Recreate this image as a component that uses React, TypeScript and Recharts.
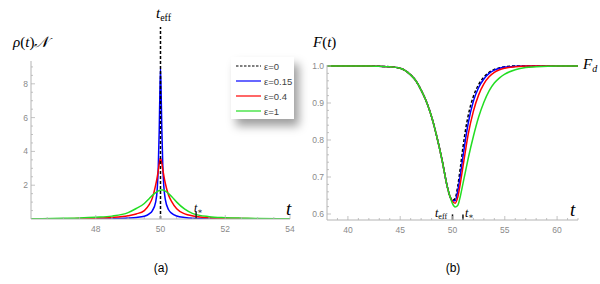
import React from 'react';
import { LineChart, Line, XAxis, YAxis, ReferenceLine, Legend } from 'recharts';

// ---------- Panel (a): rho(t) N ----------
const rhoT = [46, 47, 47.5, 48, 48.5, 49, 49.25, 49.5, 49.65, 49.75, 49.85, 49.9, 49.93, 49.96, 49.98, 50, 50.02, 50.04, 50.07, 50.1, 50.15, 50.25, 50.35, 50.5, 50.75, 51, 51.5, 52, 52.5, 53, 54];
const rhoBlue = [0.005, 0.01, 0.015, 0.02, 0.03, 0.06, 0.09, 0.16, 0.3, 0.5, 1.0, 1.8, 3.0, 5.2, 7.4, 8.9, 7.4, 5.4, 3.2, 2.0, 1.15, 0.55, 0.33, 0.18, 0.09, 0.05, 0.03, 0.02, 0.015, 0.01, 0.005];
const rhoRed = [0.01, 0.02, 0.03, 0.05, 0.09, 0.19, 0.3, 0.5, 0.85, 1.25, 2.0, 2.5, 2.85, 3.25, 3.5, 3.6, 3.5, 3.3, 2.95, 2.6, 2.1, 1.4, 1.02, 0.6, 0.3, 0.18, 0.07, 0.04, 0.03, 0.02, 0.01];
const rhoGreen = [0.015, 0.04, 0.06, 0.1, 0.17, 0.38, 0.62, 0.92, 1.2, 1.4, 1.56, 1.62, 1.66, 1.69, 1.7, 1.71, 1.72, 1.72, 1.72, 1.7, 1.65, 1.5, 1.32, 1.0, 0.58, 0.32, 0.14, 0.08, 0.05, 0.03, 0.015];
const aXTicks = [48, 50, 52, 54];
const aXMinor = [46.5, 47, 47.5, 48.5, 49, 49.5, 50.5, 51, 51.5, 52.5, 53, 53.5];
const aYTicks = [2, 4, 6, 8];
const aYMinor = [0.5, 1, 1.5, 2.5, 3, 3.5, 4.5, 5, 5.5, 6.5, 7, 7.5, 8.5, 9];
const tEffA = 50;
const tStarA = 51.1;

// ---------- Panel (b): F(t) ----------
const fT = [38, 40, 42, 43, 44, 45, 46, 46.5, 47, 47.5, 48, 48.5, 49, 49.5, 49.75, 50, 50.25, 50.5, 50.75, 51, 51.25, 51.5, 52, 52.5, 53, 53.5, 54, 54.5, 55, 56, 57, 58, 60, 62];
const fBlack = [1, 1, 1, 0.999, 0.998, 0.994, 0.976, 0.96, 0.935, 0.904, 0.863, 0.809, 0.746, 0.674, 0.648, 0.637, 0.642, 0.675, 0.725, 0.78, 0.828, 0.866, 0.918, 0.95, 0.97, 0.983, 0.991, 0.995, 0.998, 1, 1, 1, 1, 1];
const fBlue = [1, 1, 1, 0.999, 0.998, 0.994, 0.976, 0.96, 0.935, 0.904, 0.863, 0.809, 0.746, 0.674, 0.648, 0.636, 0.636, 0.662, 0.705, 0.755, 0.803, 0.845, 0.905, 0.942, 0.965, 0.98, 0.989, 0.994, 0.997, 0.999, 1, 1, 1, 1];
const fRed = [1, 1, 1, 0.999, 0.998, 0.994, 0.976, 0.96, 0.935, 0.904, 0.863, 0.809, 0.746, 0.674, 0.648, 0.634, 0.629, 0.645, 0.683, 0.728, 0.773, 0.815, 0.878, 0.922, 0.952, 0.971, 0.983, 0.99, 0.994, 0.998, 1, 1, 1, 1];
const fGreen = [1, 1, 1, 0.999, 0.998, 0.994, 0.976, 0.96, 0.935, 0.904, 0.863, 0.809, 0.746, 0.674, 0.648, 0.628, 0.619, 0.623, 0.648, 0.682, 0.716, 0.75, 0.81, 0.862, 0.902, 0.933, 0.954, 0.968, 0.978, 0.99, 0.996, 0.998, 1, 1];
const bXTicks = [40, 45, 50, 55, 60];
const bXMinor = [39, 41, 42, 43, 44, 46, 47, 48, 49, 51, 52, 53, 54, 56, 57, 58, 59, 61, 62];
const bYTicks = [0.6, 0.7, 0.8, 0.9, 1.0];
const bYMinor = [0.62, 0.64, 0.66, 0.68, 0.72, 0.74, 0.76, 0.78, 0.82, 0.84, 0.86, 0.88, 0.92, 0.94, 0.96, 0.98];
const tEffB = 50;
const tStarB = 51;

const legendLabels = ['ε=0', 'ε=0.15', 'ε=0.4', 'ε=1'];
const COLORS = { black: '#000000', blue: '#0000ff', red: '#ff0000', green: '#22dd22' };
const legendColors = [COLORS.black, COLORS.blue, COLORS.red, COLORS.green];

const rhoData = rhoT.map((t, i) => ({ t, blue: rhoBlue[i], red: rhoRed[i], green: rhoGreen[i] }));
const fData = fT.map((t, i) => ({ t, black: fBlack[i], blue: fBlue[i], red: fRed[i], green: fGreen[i] }));

const SERIF = '"Liberation Serif", "DejaVu Serif", serif';
const SANS = '"Liberation Sans", Arial, sans-serif';
const AXIS_COLOR = '#b4b4b4';
const TICK_TEXT = '#8a8a8a';

function makeTick(major: number[], axis: 'x' | 'y', fmt: (v: number) => string) {
  return (props: any) => {
    const { x, y, payload } = props;
    const v = payload.value;
    const isMajor = major.some((m) => Math.abs(m - v) < 1e-9);
    const len = isMajor ? 4 : 2;
    if (axis === 'x') {
      return (
        <g>
          <line x1={x} x2={x} y1={y} y2={y - len} stroke={AXIS_COLOR} strokeWidth={0.8} />
          {isMajor && (
            <text x={x} y={y + 13} textAnchor="middle" fontSize={8.5} fill={TICK_TEXT} fontFamily={SANS}>
              {fmt(v)}
            </text>
          )}
        </g>
      );
    }
    return (
      <g>
        <line x1={x} x2={x + len} y1={y} y2={y} stroke={AXIS_COLOR} strokeWidth={0.8} />
        {isMajor && (
          <text x={x - 3} y={y + 3} textAnchor="end" fontSize={8.5} fill={TICK_TEXT} fontFamily={SANS}>
            {fmt(v)}
          </text>
        )}
      </g>
    );
  };
}

const LegendBox = () => (
  <div
    style={{
      width: 63,
      height: 62,
      background: '#fff',
      boxShadow: '5px 7px 9px rgba(0,0,0,0.38)',
      boxSizing: 'border-box',
      paddingTop: 1.5,
    }}
  >
    {legendLabels.map((l, i) => (
      <div key={l} style={{ display: 'flex', alignItems: 'center', height: 15 }}>
        <svg width={29} height={6} style={{ marginLeft: 4 }}>
          <line
            x1={1}
            x2={26}
            y1={3}
            y2={3}
            stroke={legendColors[i]}
            strokeWidth={1.2}
            strokeDasharray={i === 0 ? '2.5 1.5' : undefined}
          />
        </svg>
        <span style={{ fontFamily: SANS, fontSize: 9.5, color: '#444' }}>{l}</span>
      </div>
    ))}
  </div>
);

const Lab = ({ left, top, children, style }: any) => (
  <div style={{ position: 'absolute', left, top, lineHeight: 1, whiteSpace: 'nowrap', fontFamily: SERIF, ...style }}>
    {children}
  </div>
);

const Sub = ({ children, size, top }: any) => (
  <span style={{ fontSize: size, position: 'relative', top, fontStyle: 'normal' }}>{children}</span>
);

export default function App() {
  return (
    <div style={{ position: 'absolute', left: 0, top: 0, width: 600, height: 284, background: '#fff', overflow: 'hidden' }}>
      <div style={{ position: 'absolute', left: 0, top: 0 }}>
        <LineChart width={300} height={284} data={rhoData} margin={{ top: 61, right: 10, bottom: 45, left: 0 }}>
          <XAxis
            dataKey="t"
            type="number"
            domain={[46, 54]}
            allowDataOverflow
            ticks={[...aXTicks, ...aXMinor].sort((p, q) => p - q)}
            interval={0}
            height={20}
            tickSize={0}
            tickMargin={0}
            tickLine={false}
            stroke={AXIS_COLOR}
            tick={makeTick(aXTicks, 'x', (v) => String(v))}
          />
          <YAxis
            type="number"
            domain={[0, 9.35]}
            allowDataOverflow
            ticks={[...aYTicks, ...aYMinor].sort((p, q) => p - q)}
            interval={0}
            width={31}
            tickSize={0}
            tickMargin={0}
            tickLine={false}
            stroke={AXIS_COLOR}
            tick={makeTick(aYTicks, 'y', (v) => String(v))}
          />
          <Line type="monotone" dataKey="blue" stroke={COLORS.blue} strokeWidth={1.5} dot={false} isAnimationActive={false} />
          <Line type="monotone" dataKey="red" stroke={COLORS.red} strokeWidth={1.5} dot={false} isAnimationActive={false} />
          <Line type="monotone" dataKey="green" stroke={COLORS.green} strokeWidth={1.5} dot={false} isAnimationActive={false} />
          <ReferenceLine
            segment={[{ x: tEffA, y: 0 }, { x: tEffA, y: 11.36 }]}
            ifOverflow="visible"
            stroke="#000"
            strokeWidth={1.5}
            strokeDasharray="3 2"
          />
          <ReferenceLine
            segment={[{ x: tStarA, y: 0 }, { x: tStarA, y: 0.42 }]}
            ifOverflow="visible"
            stroke="#222"
            strokeWidth={1.5}
          />
          <Legend
            layout="vertical"
            align="center"
            verticalAlign="middle"
            content={() => <LegendBox />}
            wrapperStyle={{ left: 231, top: 57, width: 63, height: 62 }}
          />
        </LineChart>
      </div>
      <div style={{ position: 'absolute', left: 300, top: 0 }}>
        <LineChart width={300} height={284} data={fData} margin={{ top: 65, right: 22, bottom: 44, left: 0 }}>
          <XAxis
            dataKey="t"
            type="number"
            domain={[38, 62]}
            allowDataOverflow
            ticks={[...bXTicks, ...bXMinor].sort((p, q) => p - q)}
            interval={0}
            height={20}
            tickSize={0}
            tickMargin={0}
            tickLine={false}
            stroke={AXIS_COLOR}
            tick={makeTick(bXTicks, 'x', (v) => String(v))}
          />
          <YAxis
            type="number"
            domain={[0.5838, 1.0027]}
            allowDataOverflow
            ticks={[...bYTicks, ...bYMinor].sort((p, q) => p - q)}
            interval={0}
            width={27}
            tickSize={0}
            tickMargin={0}
            tickLine={false}
            stroke={AXIS_COLOR}
            tick={makeTick(bYTicks, 'y', (v) => v.toFixed(1))}
          />
          <Line type="monotone" dataKey="black" stroke={COLORS.black} strokeWidth={1.5} strokeDasharray="3 2" dot={false} isAnimationActive={false} />
          <Line type="monotone" dataKey="blue" stroke={COLORS.blue} strokeWidth={1.5} dot={false} isAnimationActive={false} />
          <Line type="monotone" dataKey="red" stroke={COLORS.red} strokeWidth={1.5} dot={false} isAnimationActive={false} />
          <Line type="monotone" dataKey="green" stroke={COLORS.green} strokeWidth={1.5} dot={false} isAnimationActive={false} />
          <ReferenceLine
            segment={[{ x: tEffB, y: 0.5838 }, { x: tEffB, y: 0.599 }]}
            ifOverflow="visible"
            stroke="#111"
            strokeWidth={1.5}
          />
          <ReferenceLine
            segment={[{ x: tStarB, y: 0.5838 }, { x: tStarB, y: 0.599 }]}
            ifOverflow="visible"
            stroke="#111"
            strokeWidth={1.5}
          />
        </LineChart>
      </div>

      {/* Panel (a) labels */}
      <Lab left={156} top={6} style={{ fontSize: 15 }}>
        <i>t</i>
        <Sub size={10} top={3}>eff</Sub>
      </Lab>
      <Lab left={13} top={35} style={{ fontSize: 15 }}>
        <i>ρ</i>(<i>t</i>)<i>𝒩</i>
      </Lab>
      <Lab left={286} top={199} style={{ fontSize: 19 }}>
        <i>t</i>
      </Lab>
      <Lab left={194} top={202} style={{ fontSize: 12 }}>
        <i>t</i>
        <Sub size={8} top={2}>∗</Sub>
      </Lab>
      <Lab left={0} top={262} style={{ width: 322, textAlign: 'center', fontFamily: SANS, fontSize: 12 }}>
        (a)
      </Lab>

      {/* Panel (b) labels */}
      <Lab left={313} top={35} style={{ fontSize: 15 }}>
        <i>F</i>(<i>t</i>)
      </Lab>
      <Lab left={583} top={57} style={{ fontSize: 15 }}>
        <i>F</i>
        <Sub size={10} top={3}>
          <i>d</i>
        </Sub>
      </Lab>
      <Lab left={570} top={200} style={{ fontSize: 19 }}>
        <i>t</i>
      </Lab>
      <Lab left={435} top={207} style={{ fontSize: 12 }}>
        <i>t</i>
        <Sub size={8} top={2}>eff</Sub>
      </Lab>
      <Lab left={465} top={207} style={{ fontSize: 12 }}>
        <i>t</i>
        <Sub size={8} top={2}>∗</Sub>
      </Lab>
      <Lab left={300} top={262} style={{ width: 306, textAlign: 'center', fontFamily: SANS, fontSize: 12 }}>
        (b)
      </Lab>
    </div>
  );
}
